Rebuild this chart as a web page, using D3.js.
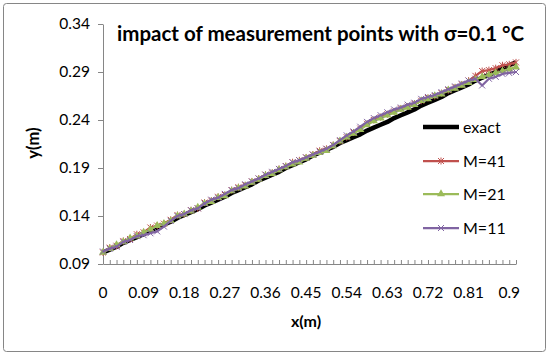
<!DOCTYPE html>
<html>
<head>
<meta charset="utf-8">
<script src="https://cdn.jsdelivr.net/npm/d3@7"></script>
<style>
  body { margin: 0; background: #fff; }
  svg { display: block; font-family: Lato, "Open Sans", sans-serif; }
</style>
</head>
<body>
<svg id="chart" width="550" height="355"></svg>
<script>
// x categories (m)
const xCats = [0, 0.015, 0.03, 0.045, 0.06, 0.075, 0.09, 0.105, 0.12, 0.135, 0.15, 0.165,
  0.18, 0.195, 0.21, 0.225, 0.24, 0.255, 0.27, 0.285, 0.3, 0.315, 0.33, 0.345, 0.36, 0.375,
  0.39, 0.405, 0.42, 0.435, 0.45, 0.465, 0.48, 0.495, 0.51, 0.525, 0.54, 0.555, 0.57, 0.585,
  0.6, 0.615, 0.63, 0.645, 0.66, 0.675, 0.69, 0.705, 0.72, 0.735, 0.75, 0.765, 0.78, 0.795,
  0.81, 0.825, 0.84, 0.855, 0.87, 0.885, 0.9, 0.915];

const exact = [0.102, 0.105, 0.108, 0.112, 0.115, 0.118, 0.121, 0.125, 0.128, 0.131, 0.134, 0.138,
  0.141, 0.144, 0.147, 0.151, 0.154, 0.157, 0.160, 0.164, 0.167, 0.170, 0.173, 0.177, 0.180, 0.183,
  0.186, 0.190, 0.193, 0.196, 0.199, 0.203, 0.206, 0.209, 0.212, 0.216, 0.219, 0.222, 0.225, 0.229,
  0.232, 0.235, 0.238, 0.242, 0.245, 0.248, 0.251, 0.255, 0.258, 0.261, 0.264, 0.268, 0.271, 0.274,
  0.277, 0.281, 0.284, 0.287, 0.290, 0.294, 0.297, 0.300];

const m41 = [0.102, 0.107, 0.109, 0.114, 0.116, 0.121, 0.123, 0.128, 0.130, 0.132, 0.136, 0.141,
  0.142, 0.146, 0.148, 0.154, 0.156, 0.160, 0.162, 0.167, 0.170, 0.172, 0.176, 0.179, 0.183, 0.185,
  0.189, 0.192, 0.196, 0.198, 0.201, 0.204, 0.208, 0.210, 0.214, 0.218, 0.222, 0.227, 0.231, 0.236,
  0.240, 0.243, 0.246, 0.249, 0.252, 0.254, 0.257, 0.260, 0.263, 0.265, 0.268, 0.271, 0.274, 0.277,
  0.281, 0.286, 0.291, 0.292, 0.294, 0.297, 0.298, 0.300];

const m21 = [0.102, 0.106, 0.110, 0.113, 0.117, 0.119, 0.123, 0.126, 0.130, 0.132, 0.135, 0.140,
  0.142, 0.145, 0.149, 0.153, 0.155, 0.159, 0.161, 0.166, 0.169, 0.171, 0.175, 0.178, 0.182, 0.184,
  0.188, 0.191, 0.194, 0.196, 0.200, 0.203, 0.206, 0.208, 0.213, 0.218, 0.222, 0.226, 0.230, 0.235,
  0.239, 0.242, 0.245, 0.248, 0.251, 0.253, 0.256, 0.260, 0.262, 0.265, 0.267, 0.271, 0.273, 0.276,
  0.279, 0.282, 0.285, 0.287, 0.289, 0.291, 0.293, 0.295];

const m11 = [0.103, 0.106, 0.108, 0.113, 0.115, 0.119, 0.120, 0.122, 0.124, 0.129, 0.135, 0.140,
  0.142, 0.146, 0.148, 0.153, 0.157, 0.159, 0.163, 0.167, 0.169, 0.173, 0.176, 0.179, 0.183, 0.186,
  0.189, 0.192, 0.196, 0.198, 0.201, 0.204, 0.207, 0.210, 0.214, 0.219, 0.224, 0.228, 0.233, 0.238,
  0.242, 0.245, 0.248, 0.251, 0.253, 0.256, 0.258, 0.262, 0.264, 0.266, 0.269, 0.272, 0.275, 0.278,
  0.281, 0.283, 0.276, 0.283, 0.285, 0.288, 0.289, 0.290];

const yTicks = [0.09, 0.14, 0.19, 0.24, 0.29, 0.34];
const yTickLabels = ["0.09", "0.14", "0.19", "0.24", "0.29", "0.34"];
const xLabelValues = [0, 0.09, 0.18, 0.27, 0.36, 0.45, 0.54, 0.63, 0.72, 0.81, 0.9];
const xTickLabels = ["0", "0.09", "0.18", "0.27", "0.36", "0.45", "0.54", "0.63", "0.72", "0.81", "0.9"];

const series = [
  { name: "exact", values: exact, color: "#000000", width: 4.5, marker: null },
  { name: "M=41", values: m41, color: "#C0504D", width: 2.25, marker: "star" },
  { name: "M=21", values: m21, color: "#9BBB59", width: 2.25, marker: "triangle" },
  { name: "M=11", values: m11, color: "#8064A2", width: 2.25, marker: "cross" }
];

const svg = d3.select("#chart");
const axisColor = "#868686";

svg.append("rect")
  .attr("x", 3.5).attr("y", 3.5)
  .attr("width", 542).attr("height", 348)
  .attr("rx", 3)
  .attr("fill", "#fff")
  .attr("stroke", axisColor);

const x = d3.scaleLinear().domain([0, 0.915]).range([103, 516]);
const y = d3.scaleLinear().domain([0.09, 0.34]).range([264, 24]);

// y axis
const yAxis = svg.append("g")
  .attr("transform", "translate(103,0)")
  .call(d3.axisLeft(y).tickValues(yTicks).tickFormat((d, i) => yTickLabels[i]).tickSize(5).tickSizeOuter(0));
yAxis.select(".domain").attr("stroke", axisColor);
yAxis.selectAll(".tick line").attr("stroke", axisColor);
yAxis.selectAll(".tick text")
  .attr("x", -13)
  .attr("fill", "#000")
  .style("font-size", "15.5px")
  .style("font-family", "Lato, 'Open Sans', sans-serif");

// x axis: one tick per category, pointing inside
const xAxis = svg.append("g")
  .attr("transform", "translate(0,264)")
  .call(d3.axisBottom(x).tickValues(xCats).tickFormat("").tickSize(-4).tickSizeOuter(0));
xAxis.select(".domain").attr("stroke", axisColor);
xAxis.selectAll(".tick line").attr("stroke", axisColor);

svg.append("g").selectAll("text")
  .data(xLabelValues)
  .join("text")
  .attr("x", d => x(d))
  .attr("y", 298)
  .attr("text-anchor", "middle")
  .style("font-size", "15.5px")
  .text((d, i) => xTickLabels[i]);

// axis titles
svg.append("text")
  .attr("x", 306).attr("y", 327)
  .attr("text-anchor", "middle")
  .style("font-size", "16px").style("font-weight", "bold")
  .text("x(m)");

svg.append("text")
  .attr("transform", "translate(39,143) rotate(-90)")
  .attr("text-anchor", "middle")
  .style("font-size", "16.5px").style("font-weight", "bold")
  .text("y(m)");

// title
svg.append("text")
  .attr("x", 117).attr("y", 41)
  .style("font-size", "20.5px").style("font-weight", "bold")
  .text("impact of measurement points with σ=0.1 °C");

// markers
function drawMarker(g, type, color) {
  if (type === "star") {
    g.append("path").attr("d", "M-3,-3L3,3M-3,3L3,-3M0,-3.5L0,3.5")
      .attr("stroke", color).attr("stroke-width", 1).attr("fill", "none");
  } else if (type === "triangle") {
    g.append("path").attr("d", d3.symbol(d3.symbolTriangle, 28)())
      .attr("fill", color);
  } else if (type === "cross") {
    g.append("path").attr("d", "M-3,-3L3,3M-3,3L3,-3")
      .attr("stroke", color).attr("stroke-width", 1).attr("fill", "none");
  }
}

const line = d3.line().x((d, i) => x(xCats[i])).y(d => y(d));

series.forEach(s => {
  svg.append("path")
    .datum(s.values)
    .attr("d", line)
    .attr("fill", "none")
    .attr("stroke", s.color)
    .attr("stroke-width", s.width)
    .attr("stroke-linejoin", "round");
  if (s.marker) {
    s.values.forEach((v, i) => {
      const g = svg.append("g").attr("transform", `translate(${x(xCats[i])},${y(v)})`);
      drawMarker(g, s.marker, s.color);
    });
  }
});

// legend
const legendY = [127, 161, 194, 228];
series.forEach((s, i) => {
  const g = svg.append("g").attr("transform", `translate(0,${legendY[i]})`);
  g.append("line")
    .attr("x1", 423).attr("x2", 459)
    .attr("stroke", s.color).attr("stroke-width", s.width);
  if (s.marker) {
    drawMarker(g.append("g").attr("transform", "translate(441,0)"), s.marker, s.color);
  }
  g.append("text")
    .attr("x", 463).attr("dy", "0.35em")
    .style("font-size", "16px")
    .text(s.name);
});
</script>
</body>
</html>
